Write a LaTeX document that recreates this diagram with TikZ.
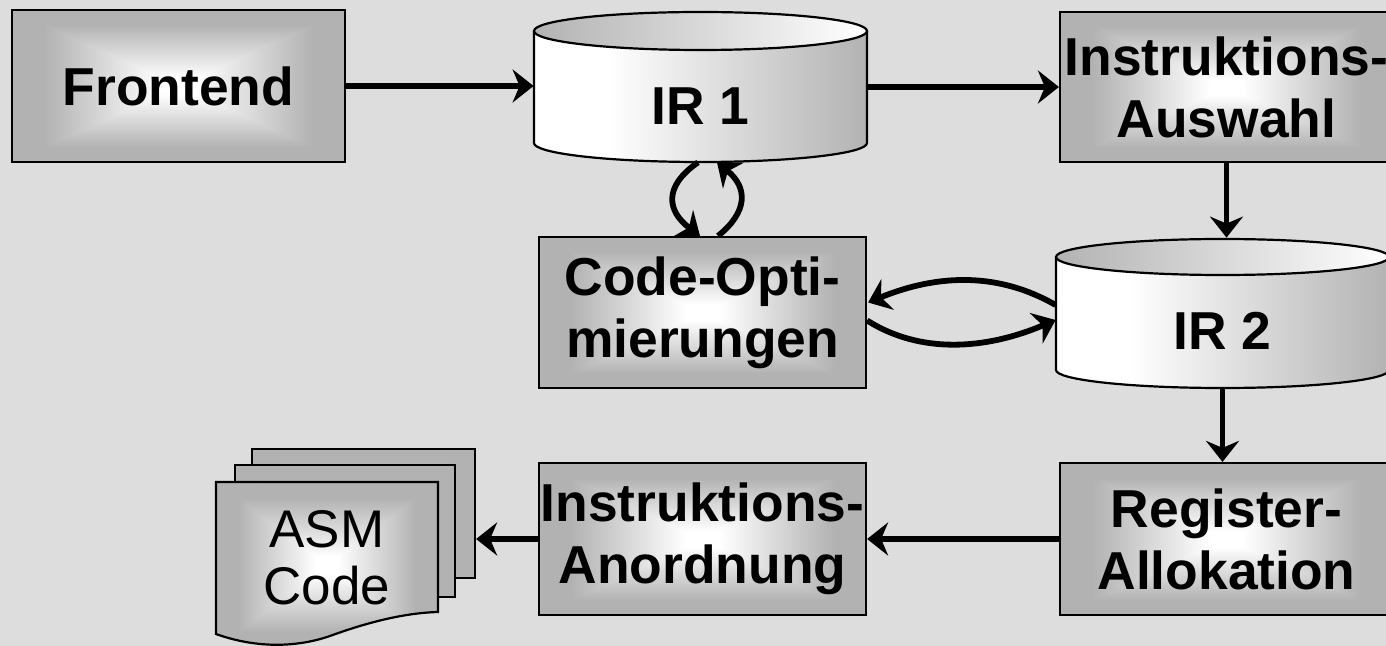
\documentclass[tikz,border=0pt]{standalone}
\usepackage{fontspec}
\setmainfont{Liberation Sans}
\usetikzlibrary{arrows.meta,calc}
\definecolor{bg}{gray}{0.867}
\definecolor{edgegray}{gray}{0.70}
\pgfdeclarefunctionalshading{boxshade}{\pgfpoint{0bp}{0bp}}{\pgfpoint{100bp}{100bp}}{}{50 sub abs exch 50 sub abs 2 copy lt {exch} if pop 25 div 0.1 sub 0.7 div dup 1 gt {pop 1} if dup 0 lt {pop 0} if 0.3 mul 1 exch sub dup dup}
\pgfdeclarehorizontalshading{cylbody}{100bp}{color(0bp)=(white); color(25bp)=(white); color(36bp)=(white); color(75bp)=(edgegray); color(100bp)=(edgegray)}
\pgfdeclarehorizontalshading{cyltop}{100bp}{color(0bp)=(edgegray); color(25bp)=(edgegray); color(75bp)=(white); color(100bp)=(white)}
\tikzset{
  box/.style={draw=black, line width=1.1pt, shade, shading=boxshade, inner sep=0pt,
    font=\fontsize{26.7}{31}\selectfont\bfseries, align=center,
    minimum width=166.5pt, minimum height=76pt},
  frame/.style={inner sep=0pt, font=\fontsize{26.7}{31}\selectfont\bfseries, align=center,
    minimum width=166.5pt, minimum height=75pt, text depth=0pt},
  page/.style={draw=black, line width=1.1pt, shade, shading=boxshade, inner sep=0pt},
  arr/.style={line width=2.9pt, -{Stealth[length=10.5pt,width=16.5pt,inset=3.5pt]}},
  cylline/.style={draw=black, line width=1.1pt}
}
\begin{document}
\begin{tikzpicture}[x=0.5pt,y=-0.5pt]
\useasboundingbox (0,0) rectangle (1386,646);
\fill[bg] (0,0) rectangle (1386,646);

% cylinder IR 1
\shade[shading=cylbody] (534,31) -- (534,143) arc[start angle=180,end angle=0,x radius=166.5,y radius=19] -- (867,31) arc[start angle=0,end angle=-180,x radius=166.5,y radius=19] -- cycle;
\draw[cylline] (534,31) -- (534,143) arc[start angle=180,end angle=0,x radius=166.5,y radius=19] -- (867,31);
\path[cylline, shade, shading=cyltop] (700.5,31) ellipse[x radius=166.5,y radius=19];

% cylinder IR 2
\shade[shading=cylbody] (1056,257) -- (1056,370) arc[start angle=180,end angle=0,x radius=166.5,y radius=18] -- (1389,257) arc[start angle=0,end angle=-180,x radius=166.5,y radius=18] -- cycle;
\draw[cylline] (1056,257) -- (1056,370) arc[start angle=180,end angle=0,x radius=166.5,y radius=18] -- (1389,257);
\path[cylline, shade, shading=cyltop] (1222.5,257) ellipse[x radius=166.5,y radius=18];

\node[frame, text height=38pt] (ir1) at (700.5,87) {IR 1};
\node[frame, text height=37pt] (ir2) at (1222.5,313) {IR 2};

% boxes
\node[box] (frontend) at (178.5,86) {Frontend};
\node[box, minimum height=75pt] (auswahl) at (1226.5,87) {Instruktions-\\Auswahl};
\node[box, minimum width=163.5pt, minimum height=75.5pt] (codeopt) at (702.5,312.5) {Code-Opti-\\mierungen};
\node[box] (register) at (1226.5,539) {Register-\\Allokation};
\node[box, minimum width=163.5pt] (anordnung) at (702.5,539) {Instruktions-\\Anordnung};

% document stack
\node[page, minimum width=111.5pt, minimum height=64.5pt] (back) at (363.5,513.5) {};
\node[page, minimum width=110pt, minimum height=66pt] (middle) at (345,531) {};
\path[page] (216,482) -- (438,482) -- (438,612) .. controls (400,613) and (360,625) .. (330,636) .. controls (295,648) and (255,648) .. (216,634) -- cycle;
\node[font=\fontsize{26.5}{28.5}\selectfont, align=center] (asm) at (327,558) {ASM\\Code};

% connectors
\draw[arr] (frontend.east) -- (frontend.east -| ir1.west);
\draw[arr] (ir1.east) -- (ir1.east -| auswahl.west);
\draw[arr] (auswahl.south) -- (auswahl.south |- ir2.north);
\draw[arr] (ir2.south) -- (ir2.south |- register.north);
\draw[arr] (register.west) -- (anordnung.east);
\draw[arr] (anordnung.west) -- (anordnung.west -| back.east);

\draw[arr] ($(ir1.south)+(-2.5,0)$) .. controls ($(ir1.south)+(-38.5,25)$) and ($(codeopt.north)+(-34.5,-24)$) .. ($(codeopt.north)+(-2.5,0)$);
\draw[arr] ($(codeopt.north)+(15.5,0)$) .. controls ($(codeopt.north)+(45.5,-24)$) and ($(ir1.south)+(47.5,25)$) .. ($(ir1.south)+(16.5,0)$);

\draw[arr] ($(ir2.west)+(0,-8)$) .. controls (1000,273) and (940,273) .. ($(codeopt.east)+(1,-10)$);
\draw[arr] ($(codeopt.east)+(0,8)$) .. controls (920,354) and (985,350) .. ($(ir2.west)+(0,7)$);
\end{tikzpicture}
\end{document}
